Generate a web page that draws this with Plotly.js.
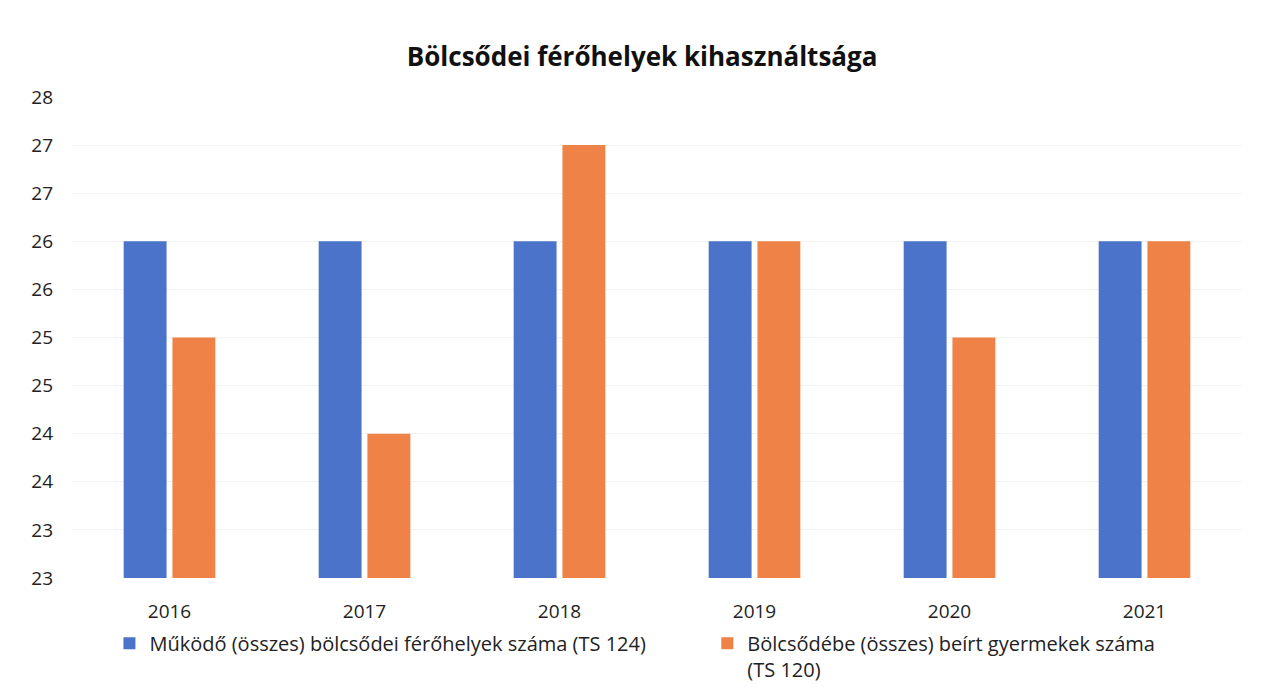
<!DOCTYPE html>
<html><head><meta charset="utf-8">
<script src="https://cdn.plot.ly/plotly-3.0.1.min.js"></script>
<style>html,body{margin:0;padding:0;background:#fff;}#chart{width:1264px;height:687px;}</style>
</head><body><div id="chart"></div>
<script>
const years = ["2016","2017","2018","2019","2020","2021"];
const ferohelyek = [26, 26, 26, 26, 26, 26];
const beirt = [25, 24, 27, 26, 25, 26];
const tickValues = [22.5, 23, 23.5, 24, 24.5, 25, 25.5, 26, 26.5, 27, 27.5];
const tickLabels = ["23","23","24","24","25","25","26","26","27","27","28"];
const seriesNames = ["Működő (összes) bölcsődei férőhelyek száma (TS 124)", "Bölcsődébe (összes) beírt gyermekek száma<br>(TS 120)"];

const fontFam = "Open Sans, Noto Sans, sans-serif";
const data = [
  {type:"bar", x:years, y:ferohelyek, name:seriesNames[0], marker:{color:"#4a73c9"}, legend:"legend"},
  {type:"bar", x:years, y:beirt, name:seriesNames[1], marker:{color:"#ee8247"}, legend:"legend2"}
];
const legFont = {family:fontFam, size:20, color:"#222"};
const layout = {
  width:1264, height:687,
  margin:{l:72, r:22, t:97, b:109, autoexpand:false},
  paper_bgcolor:"#fff", plot_bgcolor:"#fff",
  title:{text:"<b>Bölcsődei férőhelyek kihasználtsága</b>", x:0.508, xanchor:"center", y:0.917, yanchor:"middle", font:{family:fontFam, size:26, color:"#111"}},
  barmode:"group", bargap:0.5, bargroupgap:0.12,
  xaxis:{type:"category", showgrid:false, zeroline:false, showline:false, ticks:"", ticklabelstandoff:20, tickfont:{family:fontFam, size:19, color:"#222"}},
  yaxis:{range:[22.5,27.5], tickvals:tickValues, ticktext:tickLabels, showgrid:true, gridcolor:"#f2f2f2", gridwidth:1, zeroline:false, showline:false, ticks:"", ticklabelstandoff:18, tickfont:{family:fontFam, size:19, color:"#222"}},
  showlegend:true,
  legend:{orientation:"v", xref:"paper", x:0.032, xanchor:"left", y:-0.095, yanchor:"top", font:legFont, itemwidth:30, bgcolor:"rgba(0,0,0,0)", valign:"top"},
  legend2:{orientation:"v", xref:"paper", x:0.543, xanchor:"left", y:-0.095, yanchor:"top", font:legFont, itemwidth:30, bgcolor:"rgba(0,0,0,0)", valign:"top"}
};
Plotly.newPlot("chart", data, layout, {displayModeBar:false, staticPlot:true});
</script></body></html>
